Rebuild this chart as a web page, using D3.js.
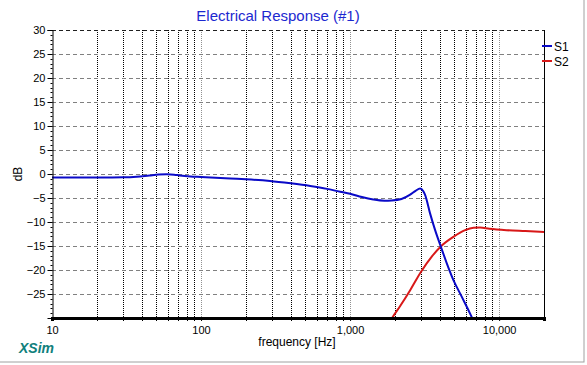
<!DOCTYPE html>
<html><head><meta charset="utf-8">
<script src="https://cdn.jsdelivr.net/npm/d3@7"></script>
<style>
html,body{margin:0;padding:0;background:#fff;}
svg{display:block;font-family:"Liberation Sans",Arial,sans-serif;}
</style></head>
<body>
<svg id="chart" width="587" height="365"></svg>
<script>
const title = "Electrical Response (#1)";
const xLabel = "frequency [Hz]";
const yLabel = "dB";
const seriesNames = ["S1", "S2"];
const seriesColors = ["#0a0ac8", "#d81818"];
const xDomain = [10, 20000];
const yDomain = [-30, 30];
const xTickValues = [10, 100, 1000, 10000];
const xTickLabels = ["10", "100", "1,000", "10,000"];
const yTickValues = [30, 25, 20, 15, 10, 5, 0, -5, -10, -15, -20, -25];
const yGridValues = [30, 25, 20, 15, 10, 5, 0, -5, -10, -15, -20, -25];

const s1Freq = [10, 15, 20, 30, 37, 45, 52, 59, 66, 72, 85, 100, 157, 200, 290, 400, 540, 700, 857, 1000, 1200, 1430, 1700, 1900, 2213, 2530, 2750, 2950, 3100, 3190, 3440, 3720, 4060, 4455, 4935, 5620, 6455, 6700];
const s1Db   = [-0.75, -0.75, -0.74, -0.68, -0.55, -0.3, -0.12, -0.05, -0.15, -0.3, -0.5, -0.6, -0.95, -1.1, -1.45, -1.95, -2.5, -3.1, -3.7, -4.1, -4.8, -5.3, -5.55, -5.5, -5.2, -4.3, -3.5, -3.0, -3.6, -4.4, -8.2, -11.7, -15.1, -18.6, -22.1, -25.6, -29.4, -30.5];
const s2Freq = [1850, 1914, 2168, 2530, 3000, 3532, 4061, 4935, 5915, 6730, 7450, 8600, 11200, 15000, 20000];
const s2Db   = [-30.8, -30, -27.5, -24.2, -20.3, -17.2, -15.1, -13.1, -11.7, -11.2, -11.15, -11.4, -11.7, -11.9, -12.1];

const svg = d3.select("#chart");
const L = 52, R = 544, T = 30, B = 318;
const x = d3.scaleLog().domain(xDomain).range([L, R]);
const y = d3.scaleLinear().domain(yDomain).range([B, T]);

// outer frame
svg.append("rect").attr("x", -1).attr("y", -1).attr("width", 585).attr("height", 363)
  .attr("fill", "none").attr("stroke", "#a0a0a0").attr("stroke-width", 1);

// title
svg.append("text").attr("x", 278).attr("y", 21).attr("text-anchor", "middle")
  .attr("font-size", 15).attr("fill", "#1c28d0").text(title);

// vertical grid
const minorX = [];
for (let d = 10; d < 20000; d *= 10) {
  for (let k = 2; k <= 9; k++) { if (d * k <= 20000) minorX.push(d * k); }
}
const g = svg.append("g");
g.selectAll(".vminor").data(minorX).join("line")
  .attr("x1", d => Math.round(x(d)) + 0.5).attr("x2", d => Math.round(x(d)) + 0.5)
  .attr("y1", T).attr("y2", B)
  .attr("stroke", "#000").attr("stroke-width", 1).attr("stroke-dasharray", "1,1");
g.selectAll(".vmajor").data([100, 1000, 10000]).join("line")
  .attr("x1", d => Math.round(x(d)) + 0.5).attr("x2", d => Math.round(x(d)) + 0.5)
  .attr("y1", T).attr("y2", B)
  .attr("stroke", "#909090").attr("stroke-width", 1).attr("stroke-dasharray", "1,1");

// horizontal grid
g.selectAll(".hgrid").data(yGridValues).join("line")
  .attr("x1", L).attr("x2", R)
  .attr("y1", d => Math.round(y(d)) + 0.5).attr("y2", d => Math.round(y(d)) + 0.5)
  .attr("stroke", d => d === 30 ? "#202020" : "#808080").attr("stroke-width", 1).attr("stroke-dasharray", "4,3");

// right border
svg.append("line").attr("x1", R + 0.5).attr("x2", R + 0.5).attr("y1", T).attr("y2", B)
  .attr("stroke", "#000").attr("stroke-width", 1);

// series
const clip = svg.append("clipPath").attr("id", "plotclip").append("rect")
  .attr("x", L).attr("y", T).attr("width", R - L).attr("height", B - T);
const line = d3.line().x(d => x(d[0])).y(d => y(d[1])).curve(d3.curveMonotoneX);
const s1 = s1Freq.map((f, i) => [f, s1Db[i]]);
const s2 = s2Freq.map((f, i) => [f, s2Db[i]]);
const plot = svg.append("g").attr("clip-path", "url(#plotclip)");
plot.append("path").datum(s2).attr("d", line).attr("fill", "none")
  .attr("stroke", seriesColors[1]).attr("stroke-width", 2);
plot.append("path").datum(s1).attr("d", line).attr("fill", "none")
  .attr("stroke", seriesColors[0]).attr("stroke-width", 2);

// y axis
const yAxis = d3.axisLeft(y).tickValues(yTickValues).tickSize(5).tickPadding(2)
  .tickFormat(d3.format("d"));
const ya = svg.append("g").attr("transform", `translate(${L + 0.5},0)`).call(yAxis);
ya.select(".domain").attr("stroke", "#000");
ya.selectAll("text").attr("font-size", 11).attr("fill", "#000")
  .attr("font-family", "Liberation Sans, Arial, sans-serif");
const minorY = d3.range(-30, 31, 1).filter(v => v % 5 !== 0);
ya.selectAll(".ym").data(minorY).join("line")
  .attr("x1", -2).attr("x2", 0)
  .attr("y1", d => Math.round(y(d)) + 0.5).attr("y2", d => Math.round(y(d)) + 0.5)
  .attr("stroke", "#000");

// x axis
const xAxis = d3.axisBottom(x).tickValues(xTickValues).tickSize(3).tickPadding(5)
  .tickFormat((d, i) => xTickLabels[i]);
const xa = svg.append("g").attr("transform", `translate(0,${B})`).call(xAxis);
xa.select(".domain").attr("stroke", "#000").attr("stroke-width", 3);
xa.selectAll("text").attr("font-size", 11).attr("fill", "#000")
  .attr("font-family", "Liberation Sans, Arial, sans-serif");
xa.selectAll(".xm").data(minorX).join("line")
  .attr("x1", d => Math.round(x(d)) + 0.5).attr("x2", d => Math.round(x(d)) + 0.5)
  .attr("y1", 0).attr("y2", 3).attr("stroke", "#000");

// axis labels
svg.append("text").attr("x", 297).attr("y", 346).attr("text-anchor", "middle")
  .attr("font-size", 12).attr("fill", "#000").text(xLabel);
svg.append("text").attr("transform", "translate(22,174) rotate(-90)")
  .attr("text-anchor", "middle").attr("font-size", 12).attr("fill", "#000").text(yLabel);

// XSim brand
svg.append("text").attr("x", 19).attr("y", 353).attr("font-size", 14)
  .attr("font-weight", "bold").attr("font-style", "italic").attr("fill", "#10807c").text("XSim");

// legend
const lg = svg.append("g");
seriesNames.forEach((n, i) => {
  const yy = 46 + i * 15;
  lg.append("line").attr("x1", 542).attr("x2", 552).attr("y1", yy).attr("y2", yy)
    .attr("stroke", seriesColors[i]).attr("stroke-width", 2);
  lg.append("text").attr("x", 554).attr("y", yy + 4.5).attr("font-size", 12)
    .attr("fill", "#000").text(n);
});
</script>
</body></html>
